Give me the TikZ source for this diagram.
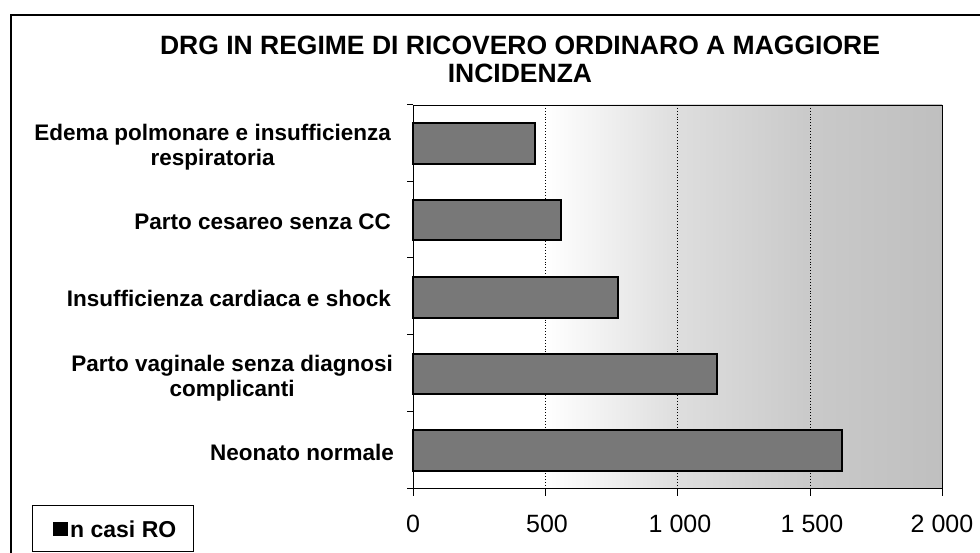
\documentclass[tikz,border=0pt]{standalone}
\usepackage{fontspec}
\setmainfont{Liberation Sans}
\definecolor{barfill}{gray}{0.47}
\definecolor{bgA}{gray}{0.87}
\definecolor{bgB}{gray}{0.79}
\definecolor{bgC}{gray}{0.75}
\pgfdeclarehorizontalshading{plotbg}{100bp}{color(0bp)=(white); color(37.5bp)=(white); color(50bp)=(bgA); color(62.5bp)=(bgB); color(75bp)=(bgC); color(100bp)=(bgC)}
\tikzset{
  bar/.style={draw=black, line width=1.4pt, fill=barfill},
  gridline/.style={black, line width=0.9pt, dotted},
  axisline/.style={black, line width=1pt},
  cat/.style={font=\fontsize{22.5}{25}\selectfont\bfseries, align=center, inner sep=0pt},
  ticklab/.style={font=\fontsize{25}{28}\selectfont, inner sep=0pt, anchor=base},
  titlestyle/.style={font=\fontsize{26.5}{28}\selectfont\bfseries, align=center, inner sep=0pt},
}
\begin{document}
\begin{tikzpicture}[x=1pt, y=-1pt]
\useasboundingbox (0,0) rectangle (980,553);
% outer frame
\draw[line width=1.2pt] (11,553) -- (11,15) -- (980,15);
% title (base anchor = baseline of last line)
\node[titlestyle, anchor=base] (title) at (520,83) {DRG IN REGIME DI RICOVERO ORDINARO A MAGGIORE\\INCIDENZA};
% plot background
\shade[shading=plotbg] (413,105) rectangle (942,488);
% grid lines
\foreach \gx in {545,677,810} \draw[gridline] (\gx,105) -- (\gx,488);
% plot frame
\draw[black, line width=0.8pt] (413,105) -- (942,105) -- (942,488);
% bars
\draw[bar] (413,123) rectangle (535,164);
\draw[bar] (413,200) rectangle (561,240);
\draw[bar] (413,277) rectangle (618,318);
\draw[bar] (413,354) rectangle (717,394);
\draw[bar] (413,430) rectangle (842,471);
% axes
\draw[axisline] (413,105) -- (413,488) -- (942,488);
\foreach \ty in {105,182,258,335,411,488} \draw[axisline] (407,\ty) -- (413,\ty);
\foreach \tx in {413,545,677,810,942} \draw[axisline] (\tx,488) -- (\tx,496);
% category labels
\node[cat, anchor=base east] (c1) at (391,166) {Edema polmonare e insufficienza\\respiratoria};
\node[cat, anchor=base east] (c2) at (391,230) {Parto cesareo senza CC};
\node[cat, anchor=base east] (c3) at (391,307) {Insufficienza cardiaca e shock};
\node[cat, anchor=base east] (c4) at (393,396) {Parto vaginale senza diagnosi\\complicanti};
\node[cat, anchor=base east] (c5) at (394,460) {Neonato normale};
% tick labels
\node[ticklab] (l0) at (413,532) {0};
\node[ticklab] (l1) at (547,532) {500};
\node[ticklab] (l2) at (680,532) {1 000};
\node[ticklab] (l3) at (812,532) {1 500};
\node[ticklab] (l4) at (942,532) {2 000};
% legend
\node[draw=black, line width=1pt, minimum width=161pt, minimum height=46pt, anchor=north west, inner sep=0pt] (legend) at (32,505) {};
\fill[black] (53,522) rectangle (68,536);
\node[font=\fontsize{23}{26}\selectfont\bfseries, anchor=base west, inner sep=0pt] (legtext) at (70,537) {n casi RO};
\end{tikzpicture}
\end{document}
